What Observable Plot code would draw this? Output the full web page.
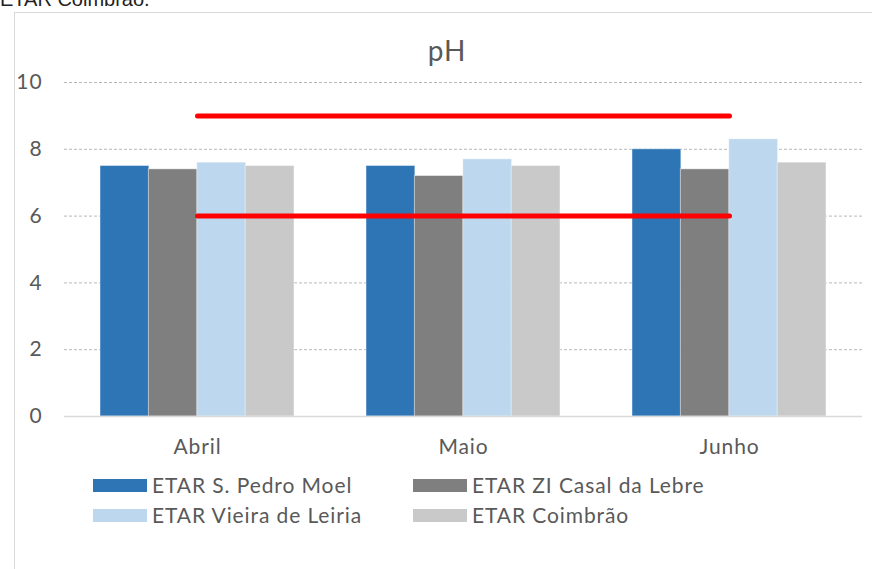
<!DOCTYPE html>
<html>
<head>
<meta charset="utf-8">
<script src="https://cdn.jsdelivr.net/npm/d3@7"></script>
<script src="https://cdn.jsdelivr.net/npm/@observablehq/plot@0.6"></script>
<style>
  html, body { margin: 0; padding: 0; background: #fff; }
  #page { position: relative; width: 872px; height: 569px; overflow: hidden; font-family: Lato, "Open Sans", sans-serif; color: #595959; }
  #cut { position: absolute; left: 0; top: -11px; font: 20px/20px "Liberation Sans", Arial, sans-serif; color: #222; white-space: nowrap; }
  #frame { position: absolute; left: 14px; top: 12px; width: 1000px; height: 1000px; border-left: 1.5px solid #d9d9d9; border-top: 1.5px solid #d9d9d9; }
  #title { position: absolute; left: 0; width: 894px; text-align: center; top: 33px; font-size: 28px; line-height: 34px; letter-spacing: 1px; }
  #chart { position: absolute; left: 0; top: 0; }
  .leg { position: absolute; display: flex; align-items: center; font-size: 21px; line-height: 30px; white-space: nowrap; letter-spacing: 0.9px; }
  .sw { width: 54px; height: 13px; margin-right: 5px; }
</style>
</head>
<body>
<div id="page">
  <div id="cut">ETAR Coimbrão.</div>
  <div id="frame"></div>
  <div id="chart"></div>
  <div id="title">pH</div>
</div>
<script>
const months = ["Abril", "Maio", "Junho"];
const series = ["ETAR S. Pedro Moel", "ETAR ZI Casal da Lebre", "ETAR Vieira de Leiria", "ETAR Coimbrão"];
const colors = ["#2E75B6", "#7F7F7F", "#BDD7EE", "#C9C9C9"];
// values per series, ordered by month
const sPedroMoel = [7.5, 7.5, 8.0];
const ziCasalLebre = [7.4, 7.2, 7.4];
const vieiraLeiria = [7.6, 7.7, 8.3];
const coimbrao = [7.5, 7.5, 7.6];
const yTicks = [0, 2, 4, 6, 8, 10];
const limitMax = 9;
const limitMin = 6;

const seriesValues = [sPedroMoel, ziCasalLebre, vieiraLeiria, coimbrao];
const data = [];
series.forEach((s, i) => months.forEach((m, j) => data.push({month: m, series: s, si: i, value: seriesValues[i][j]})));
const limits = [];
[["max", limitMax], ["min", limitMin]].forEach(([k, v]) => months.forEach(m => limits.push({month: m, limit: k, v})));

const W = 872, H = 460, mL = 64, mR = 10, mT = 82, mB = 44;
const pI = 0.2725, pO = 0.136;
const band = d3.scaleBand(months, [mL, W - mR]).paddingInner(pI).paddingOuter(pO);
const bw = band.bandwidth() / 4;

const marks = [
  Plot.ruleY(yTicks.filter(t => t > 0), {stroke: "#b8b8b8", strokeDasharray: "3,2", strokeWidth: 1}),
];
series.forEach((s, i) => {
  marks.push(Plot.barY(data.filter(d => d.si === i), {
    x: "month", y: "value", fill: colors[i],
    insetLeft: i * bw, insetRight: (3 - i) * bw,
    stroke: "#ffffff", strokeOpacity: 0.45, strokeWidth: 1
  }));
});
marks.push(Plot.ruleY([0], {stroke: "#d9d9d9", strokeWidth: 1.5}));
marks.push(Plot.lineY(limits, {x: "month", y: "v", z: "limit", stroke: "#FF0000", strokeWidth: 5, strokeLinecap: "round"}));

const chart = Plot.plot({
  width: W, height: H,
  marginLeft: mL, marginRight: mR, marginTop: mT, marginBottom: mB,
  style: {fontFamily: "Lato, 'Open Sans', sans-serif", fontSize: "21px", letterSpacing: "0.9px", color: "#595959", background: "transparent", overflow: "visible"},
  x: {domain: months, paddingInner: pI, paddingOuter: pO, label: null, tickSize: 0, tickPadding: 23},
  y: {domain: [0, 10], ticks: yTicks, tickFormat: d => String(d), label: null, tickSize: 0, tickPadding: 22},
  marks
});
document.getElementById("chart").appendChild(chart);

// legend
const pos = [[93, 470], [413, 470], [93, 500], [413, 500]];
const page = document.getElementById("page");
series.forEach((s, i) => {
  const d = document.createElement("div");
  d.className = "leg";
  d.style.left = pos[i][0] + "px";
  d.style.top = pos[i][1] + "px";
  d.innerHTML = `<span class="sw" style="background:${colors[i]}"></span><span>${s}</span>`;
  page.appendChild(d);
});
</script>
</body>
</html>
